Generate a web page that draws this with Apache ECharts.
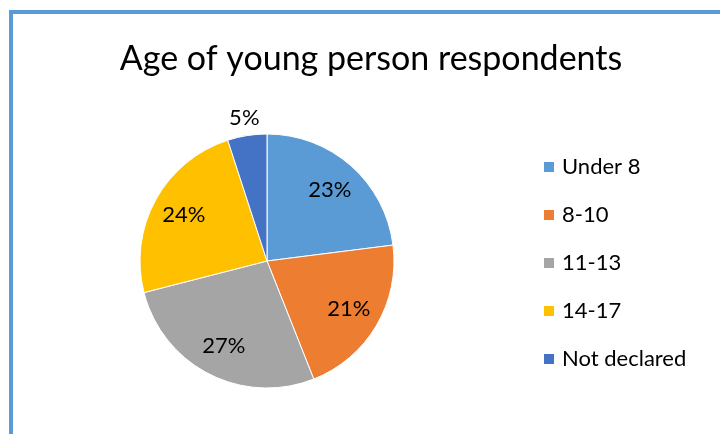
<!DOCTYPE html>
<html>
<head>
<meta charset="utf-8">
<script src="https://cdn.jsdelivr.net/npm/echarts@6/dist/echarts.min.js"></script>
<style>
html,body{margin:0;padding:0;background:#fff;}
#chart{width:720px;height:434px;}
</style>
</head>
<body>
<div id="chart"></div>
<script>
const titleText = "Age of young person respondents";
const categories = ["Under 8", "8-10", "11-13", "14-17", "Not declared"];
const values = [23, 21, 27, 24, 5];
const colors = ["#5B9BD5", "#ED7D31", "#A5A5A5", "#FFC000", "#4472C4"];
const outsideLabelIndex = [4];

const FONT = "Lato, 'Open Sans', sans-serif";
const chart = echarts.init(document.getElementById('chart'), null, {renderer: 'canvas'});

const baseData = categories.map((name, i) => ({name, value: values[i], itemStyle: {color: colors[i]}}));
const insideData = categories.map((name, i) => ({
  name, value: values[i],
  label: {show: outsideLabelIndex.indexOf(i) < 0}
}));
const outerData = categories.map((name, i) => ({
  name, value: values[i],
  label: {show: outsideLabelIndex.indexOf(i) >= 0}
}));

const center = [267, 261];
const labelStyle = {
  position: 'inside',
  formatter: '{c}%',
  color: '#000',
  fontFamily: FONT,
  fontSize: 22,
  textBorderWidth: 0
};

chart.setOption({
  backgroundColor: '#fff',
  animation: false,
  title: {
    text: titleText,
    left: 366, top: 37,
    textAlign: 'center',
    textStyle: {fontFamily: FONT, fontSize: 34, fontWeight: 'normal', color: '#000'}
  },
  legend: {
    orient: 'vertical',
    left: 537, top: 150,
    itemWidth: 12, itemHeight: 12,
    itemGap: 24,
    icon: 'rect',
    data: categories,
    textStyle: {fontFamily: FONT, fontSize: 22, color: '#000', lineHeight: 24, padding: [0, 0, 0, 2]}
  },
  graphic: [{
    type: 'rect',
    shape: {x: 11, y: 12, width: 900, height: 900},
    style: {fill: 'none', stroke: '#5B9BD5', lineWidth: 4},
    silent: true,
    z: 100
  }],
  series: [
    {
      type: 'pie',
      name: 'base',
      center: center,
      radius: [0, 127],
      startAngle: 90,
      clockwise: true,
      silent: true,
      itemStyle: {borderColor: '#fff', borderWidth: 1},
      label: {show: false},
      labelLine: {show: false},
      data: baseData
    },
    {
      type: 'pie',
      name: 'innerLabels',
      center: center,
      radius: [0, 184],
      startAngle: 90,
      clockwise: true,
      silent: true,
      legendHoverLink: false,
      itemStyle: {color: 'rgba(0,0,0,0)', borderWidth: 0},
      emphasis: {disabled: true},
      label: labelStyle,
      labelLine: {show: false},
      data: insideData
    },
    {
      type: 'pie',
      name: 'outerLabels',
      center: center,
      radius: [0, 284],
      startAngle: 90,
      clockwise: true,
      silent: true,
      legendHoverLink: false,
      itemStyle: {color: 'rgba(0,0,0,0)', borderWidth: 0},
      emphasis: {disabled: true},
      label: labelStyle,
      labelLine: {show: false},
      data: outerData
    }
  ]
});
</script>
</body>
</html>
